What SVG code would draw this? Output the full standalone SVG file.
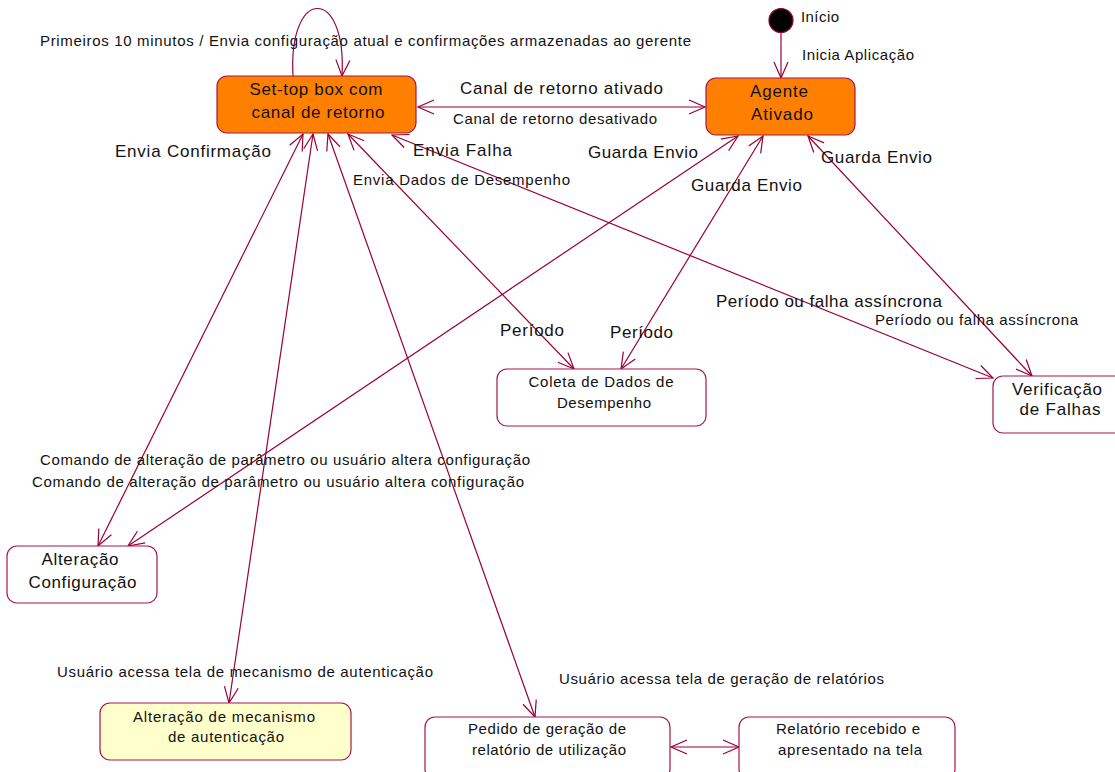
<svg xmlns="http://www.w3.org/2000/svg" width="1115" height="772" viewBox="0 0 1115 772">
  <style>
    text { font-family: "Liberation Sans", Arial, sans-serif; fill: #111; }
    .lg { font-size: 17px; }
    .sm { font-size: 15px; }
    .mid { text-anchor: middle; }
    .state { stroke: #A3164E; stroke-width: 1.2; }
    .active { fill: #FF8000; }
    .plain { fill: #FFFFFF; }
    .note { fill: #FFFFCC; }
    .edge { fill: none; stroke: #990033; stroke-width: 1.2; marker-end: url(#arrow); }
    .both { marker-start: url(#arrow); }
  </style>
  <defs>
    <!-- open "V" arrowhead used on every transition -->
    <marker id="arrow" markerUnits="userSpaceOnUse" viewBox="-18 -9 20 18" refX="0" refY="0" markerWidth="20" markerHeight="18" orient="auto-start-reverse">
      <path d="M-16,-7 L0,0 L-16,7" fill="none" stroke="#990033" stroke-width="1.2"/>
    </marker>
  </defs>
  <rect width="1115" height="772" fill="#FFFFFF"/>

  <!-- transitions -->
  <g id="connectors">
    <path class="edge" d="M781,33 L781,78"/>
    <path class="edge" d="M293,76 C288,-14 347,-14 342,76"/>
    <path class="edge both" d="M418,107 L705,107"/>
    <path class="edge both" d="M303,134 L98,546"/>
    <path class="edge both" d="M313,134 L229,703"/>
    <path class="edge both" d="M328,134 L535,717"/>
    <path class="edge both" d="M348,134 L574,369"/>
    <path class="edge both" d="M392,135 L993,378"/>
    <path class="edge both" d="M738,136 L128,546"/>
    <path class="edge both" d="M763,136 L621,369"/>
    <path class="edge both" d="M808,136 L1032,376"/>
    <path class="edge both" d="M671,747 L739,747"/>
  </g>

  <!-- transition labels -->
  <g id="labels">
    <text class="sm" x="40" y="46" textLength="651">Primeiros 10 minutos / Envia configuração atual e confirmações armazenadas ao gerente</text>
    <text class="sm" x="801" y="22" textLength="38">Início</text>
    <text class="sm" x="802" y="60" textLength="112">Inicia Aplicação</text>
    <text class="lg" x="460" y="94" textLength="203">Canal de retorno ativado</text>
    <text class="sm" x="453" y="124" textLength="204">Canal de retorno desativado</text>
    <text class="lg" x="115" y="157" textLength="156">Envia Confirmação</text>
    <text class="lg" x="413" y="156" textLength="99">Envia Falha</text>
    <text class="sm" x="353" y="185" textLength="217">Envia Dados de Desempenho</text>
    <text class="lg" x="588" y="158" textLength="110">Guarda Envio</text>
    <text class="lg" x="691" y="191" textLength="111">Guarda Envio</text>
    <text class="lg" x="821" y="163" textLength="111">Guarda Envio</text>
    <text class="lg" x="716" y="307" textLength="226">Período ou falha assíncrona</text>
    <text class="sm" x="875" y="325" textLength="203">Período ou falha assíncrona</text>
    <text class="lg" x="500" y="336" textLength="64">Período</text>
    <text class="lg" x="610" y="338" textLength="63">Período</text>
    <text class="sm" x="40" y="465" textLength="490">Comando de alteração de parâmetro ou usuário altera configuração</text>
    <text class="sm" x="32" y="487" textLength="492">Comando de alteração de parâmetro ou usuário altera configuração</text>
    <text class="sm" x="57" y="677" textLength="376">Usuário acessa tela de mecanismo de autenticação</text>
    <text class="sm" x="559" y="684" textLength="325">Usuário acessa tela de geração de relatórios</text>
  </g>

  <g id="inicio">
    <circle cx="781" cy="20.5" r="12" fill="#000000" stroke="#990033" stroke-width="1.2"/>
  </g>

  <g id="settop">
    <rect class="state active" x="217" y="76" width="199" height="57" rx="10"/>
    <text class="lg mid" x="316" y="95" textLength="133">Set-top box com</text>
    <text class="lg mid" x="318" y="118" textLength="133">canal de retorno</text>
  </g>

  <g id="agente">
    <rect class="state active" x="706" y="78" width="149" height="57" rx="10"/>
    <text class="lg mid" x="779" y="97" textLength="58">Agente</text>
    <text class="lg mid" x="782" y="120" textLength="62">Ativado</text>
  </g>

  <g id="coleta">
    <rect class="state plain" x="497" y="369" width="209" height="57" rx="10"/>
    <text class="sm mid" x="601" y="387" textLength="145">Coleta de Dados de</text>
    <text class="sm mid" x="604" y="408" textLength="94">Desempenho</text>
  </g>

  <g id="verificacao">
    <rect class="state plain" x="993" y="376" width="140" height="57" rx="10"/>
    <text class="lg mid" x="1057" y="395" textLength="90">Verificação</text>
    <text class="lg mid" x="1060" y="415" textLength="81">de Falhas</text>
  </g>

  <g id="alteracao-config">
    <rect class="state plain" x="7" y="546" width="150" height="57" rx="10"/>
    <text class="lg mid" x="80" y="565" textLength="77">Alteração</text>
    <text class="lg mid" x="82.5" y="588" textLength="108">Configuração</text>
  </g>

  <g id="alteracao-mecanismo">
    <rect class="state note" x="100" y="703" width="251" height="57" rx="10"/>
    <text class="sm mid" x="224" y="722" textLength="182">Alteração de mecanismo</text>
    <text class="sm mid" x="226" y="742" textLength="116">de autenticação</text>
  </g>

  <g id="pedido">
    <rect class="state plain" x="425" y="717" width="245" height="62" rx="10"/>
    <text class="sm mid" x="547" y="734" textLength="158">Pedido de geração de</text>
    <text class="sm mid" x="549" y="755" textLength="154">relatório de utilização</text>
  </g>

  <g id="relatorio">
    <rect class="state plain" x="739" y="717" width="216" height="62" rx="10"/>
    <text class="sm mid" x="848" y="734" textLength="144">Relatório recebido e</text>
    <text class="sm mid" x="850" y="755" textLength="144">apresentado na tela</text>
  </g>
</svg>
